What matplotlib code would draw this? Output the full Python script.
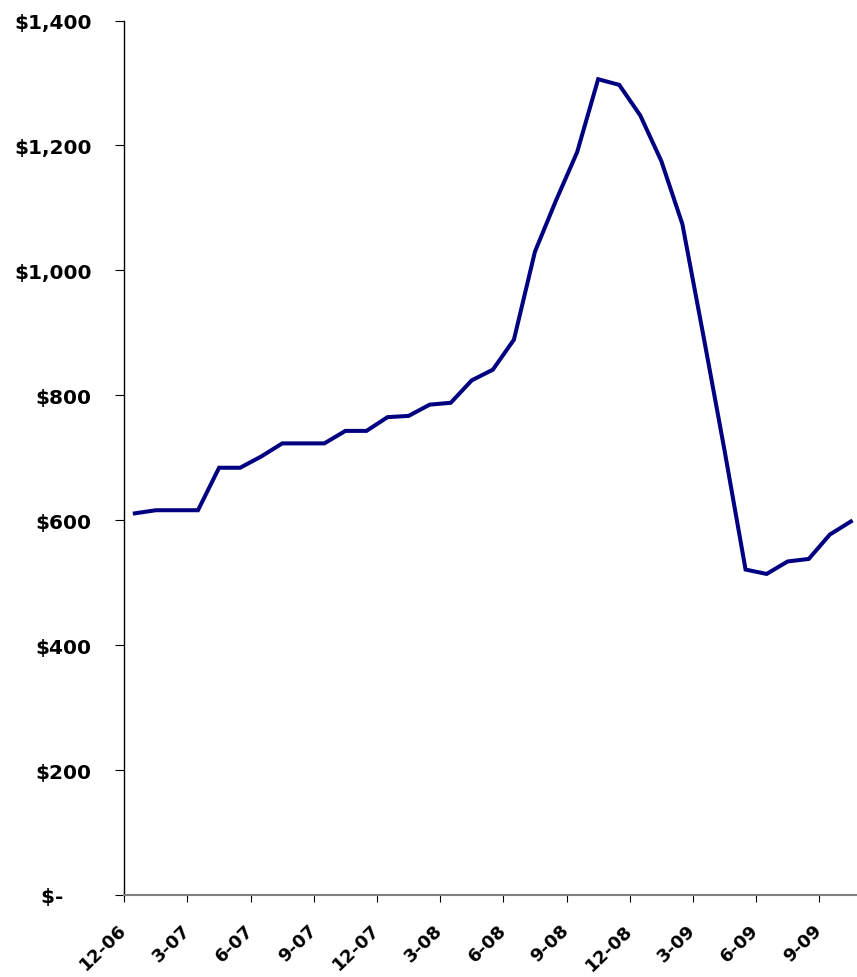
import matplotlib
matplotlib.use("Agg")
import matplotlib.pyplot as plt
from matplotlib.ticker import FuncFormatter, FixedLocator, MultipleLocator

# Monthly values, Dec 2006 .. Oct 2009
months = ["12-06", "1-07", "2-07", "3-07", "4-07", "5-07", "6-07", "7-07", "8-07", "9-07",
          "10-07", "11-07", "12-07", "1-08", "2-08", "3-08", "4-08", "5-08", "6-08", "7-08",
          "8-08", "9-08", "10-08", "11-08", "12-08", "1-09", "2-09", "3-09", "4-09", "5-09",
          "6-09", "7-09", "8-09", "9-09", "10-09"]
values = [611, 616, 616, 616, 684, 684, 702, 723, 723, 723,
          743, 743, 765, 767, 785, 788, 824, 841, 889, 1030,
          1112, 1189, 1306, 1297, 1248, 1175, 1074, 895, 712, 521,
          514, 534, 538, 577, 598]
tick_labels = ["12-06", "3-07", "6-07", "9-07", "12-07", "3-08", "6-08", "9-08",
               "12-08", "3-09", "6-09", "9-09"]

W, H = 857, 978
fig = plt.figure(figsize=(W / 100, H / 100), dpi=100)
ax = fig.add_axes([124.3 / W, (H - 896) / H, (W - 124.3) / W, (896 - 21.5) / H])

x = [i + 0.5 for i in range(len(values))]
ax.plot(x, values, color="#000080", lw=2.9, solid_joinstyle="miter")

ax.set_xlim(0, (W - 124.3) / 21.06)
ax.set_ylim(0, 1400)

ax.xaxis.set_major_locator(FixedLocator([3 * k for k in range(len(tick_labels))]))
ax.set_xticklabels(tick_labels)
ax.yaxis.set_major_locator(MultipleLocator(200))

def fmt(v, pos):
    if v == 0:
        return "$-\u2007\u2007"
    return "${:,.0f}".format(v)
ax.yaxis.set_major_formatter(FuncFormatter(fmt))

for s in ["top", "right"]:
    ax.spines[s].set_visible(False)
ax.spines["left"].set_color("black")
ax.spines["left"].set_linewidth(1.0)
ax.spines["bottom"].set_color("#808080")
ax.spines["bottom"].set_linewidth(1.5)

ax.tick_params(axis="y", direction="out", length=6.5, width=0.8, color="black",
               pad=17, labelsize=14.5)
ax.tick_params(axis="x", direction="out", length=5, width=0.8, color="black",
               pad=18, labelsize=13)
for lab in ax.get_yticklabels():
    lab.set_fontweight("bold")
    lab.set_family("DejaVu Sans")
for lab in ax.get_xticklabels():
    lab.set_fontweight("bold")
    lab.set_family("DejaVu Sans")
    lab.set_rotation(44)
    lab.set_ha("right")
    lab.set_va("center")
    lab.set_rotation_mode("anchor")

fig.savefig("out.png", dpi=100)
